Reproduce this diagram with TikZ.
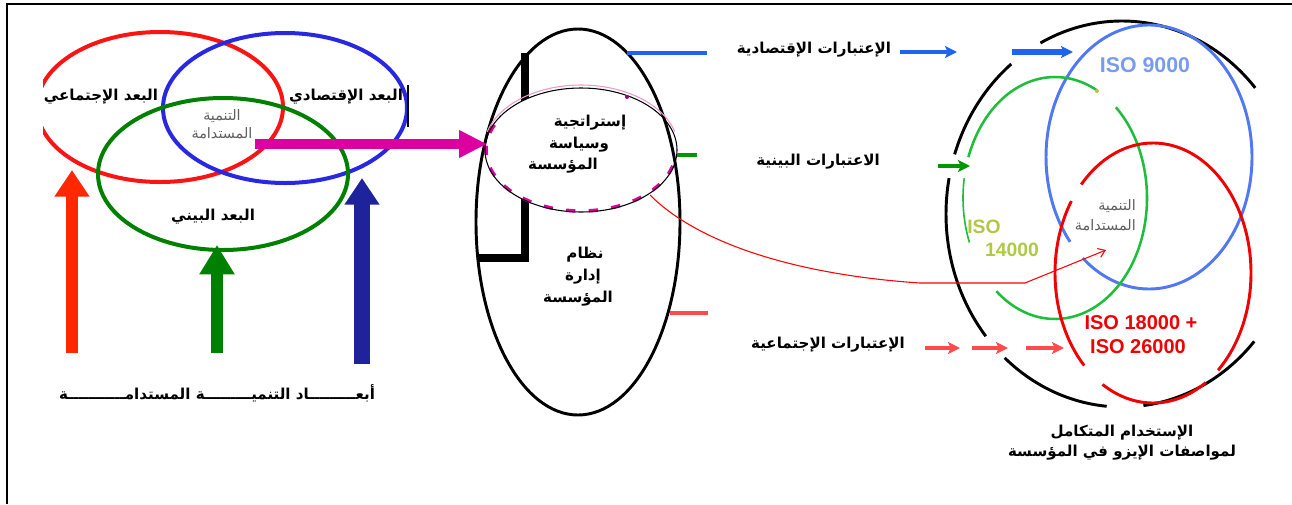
\documentclass[tikz,border=0pt]{standalone}
\usepackage{fontspec}
\setmainfont{Liberation Sans}
\newfontfamily\arabicfont[Script=Arabic]{DejaVu Sans}
\TeXXeTstate=1
\usetikzlibrary{arrows.meta}
\newcommand{\rtltxt}[1]{\beginR #1\endR}
\definecolor{vred}{RGB}{250,20,20}
\definecolor{vblue}{RGB}{40,40,225}
\definecolor{vgreen}{RGB}{0,128,0}
\definecolor{mag}{RGB}{220,0,160}
\definecolor{pinkl}{RGB}{240,150,200}
\definecolor{arrred}{RGB}{255,40,0}
\definecolor{arrgreen}{RGB}{0,128,0}
\definecolor{arrblue}{RGB}{30,35,155}
\definecolor{lblue}{RGB}{30,100,240}
\definecolor{lgreen}{RGB}{0,150,0}
\definecolor{lred}{RGB}{255,75,75}
\definecolor{isoblue}{RGB}{80,120,240}
\definecolor{isotext}{RGB}{120,155,235}
\definecolor{isogreen}{RGB}{30,190,60}
\definecolor{isoyel}{RGB}{175,200,70}
\definecolor{isored}{RGB}{240,0,0}
\definecolor{gtext}{RGB}{95,95,95}
\tikzset{
  arb/.style={font=\arabicfont\bfseries\fontsize{11.3}{15}\selectfont, inner sep=0pt, align=center},
  arg/.style={font=\arabicfont\fontsize{10.8}{13.5}\selectfont, text=gtext, inner sep=0pt, align=center},
  isolbl/.style={font=\bfseries\fontsize{15}{18}\selectfont, inner sep=0pt, align=center},
  bigup/.style={line width=9pt, -{Triangle[length=20pt,width=25pt]}},
  smallarr/.style={line width=3pt, -{Stealth[length=9pt,width=9pt,inset=2pt]}},
}
\begin{document}
\begin{tikzpicture}[x=0.75pt,y=-0.75pt]
\useasboundingbox (0,0) rectangle (1292,504);
% frame
\draw[line width=1.6pt] (7,504) -- (7,4) -- (1292,4);

% ---------- left Venn ----------
\begin{scope}
  \clip (43,0) rectangle (1292,504);
  \draw[vred, line width=3pt] (160,107) ellipse [x radius=123, y radius=75];
\end{scope}
\draw[vblue, line width=3pt] (285,108) ellipse [x radius=122, y radius=75];
\draw[vgreen, line width=3pt] (223,174) ellipse [x radius=125, y radius=76];
\draw[line width=1.1pt] (408,85) -- (408,127);

\node[arb] (soc) at (101,97) {\rtltxt{البعد الإجتماعي}};
\node[arb] (eco) at (346,97) {\rtltxt{البعد الإقتصادي}};
\node[arg] (sd1) at (222,124) {\rtltxt{التنمية}\\\rtltxt{المستدامة}};
\node[arb] (env) at (213,217) {\rtltxt{البعد البيني}};
\node[arb] (dims) at (217,393) {\rtltxt{أبعـــــــــاد التنميـــــــــة المستدامـــــــــــة}};

% up arrows
\coordinate (ra0) at (72,353); \coordinate (ra1) at (72,170);
\coordinate (ga0) at (217,353); \coordinate (ga1) at (217,245);
\coordinate (ba0) at (362,364); \coordinate (ba1) at (362,178);
\draw[bigup, arrred] (ra0) -- (ra1);
\draw[bigup, arrgreen, -{Triangle[length=22pt,width=25pt]}] (ga0) -- (ga1);
\draw[bigup, arrblue, line width=12pt] (ba0) -- (ba1);

% ---------- middle ellipses ----------
\draw[line width=6pt] (525,53) -- (525,258) -- (477,258);
\fill[white] (581,150) ellipse [x radius=96, y radius=62];
\draw[line width=2.2pt] (578,222) ellipse [x radius=102, y radius=193];
\draw[pinkl, line width=0.8pt] plot[domain=195:345, samples=60, smooth] ({581+97*cos(\x)},{148+63*sin(\x)});
\draw[mag, line width=2.6pt, dash pattern=on 7pt off 10pt] plot[domain=15:215, samples=80, smooth] ({581+95*cos(\x)},{150+61*sin(\x)});
\draw[line width=0.8pt] (581,150) ellipse [x radius=96, y radius=62];
\fill[mag!70!black] (627,97) circle [radius=2];

\node[arb] (st1) at (590,123) {\rtltxt{إستراتجية}};
\node[arb] (st2) at (579,145) {\rtltxt{وسياسة}};
\node[arb] (st3) at (563,166) {\rtltxt{المؤسسة}};
\node[arb] (ms1) at (585,255) {\rtltxt{نظام}};
\node[arb] (ms2) at (583,277) {\rtltxt{إدارة}};
\node[arb] (ms3) at (578,299) {\rtltxt{المؤسسة}};

% magenta arrow
\coordinate (m0) at (255,144); \coordinate (m1) at (487,144);
\draw[mag, line width=7.5pt, -{Triangle[length=21pt,width=19.5pt]}] (m0) -- (m1);

% stubs from big ellipse
\draw[lblue, line width=3pt] (627,53) -- (707,53);
\draw[lgreen, line width=3pt] (677,155) -- (697,155);
\draw[lred, line width=3pt] (670,313) -- (708,313);

% considerations labels
\node[arb] (ce) at (814,50) {\rtltxt{الإعتبارات الإقتصادية}};
\node[arb] (cv) at (818,162) {\rtltxt{الاعتبارات البينية}};
\node[arb] (cs) at (828,345) {\rtltxt{الإعتبارات الإجتماعية}};

\draw[smallarr, lblue] (900,52) -- (957,52);
\draw[smallarr, lblue, line width=4pt] (1012,52) -- (1073,52);
\draw[smallarr, lgreen] (938,166) -- (970,166);
\draw[smallarr, lred] (925,348) -- (960,348);
\draw[smallarr, lred] (972,348) -- (1008,348);
\draw[smallarr, lred] (1026,348) -- (1064,348);

% ---------- right diagram ----------
\begin{scope}[line width=2.2pt]
\draw plot[domain=-117.6:-40.8, samples=50, smooth] ({1122+176*cos(\x)},{214+193*sin(\x)});
\draw plot[domain=-162:-129, samples=30, smooth] ({1122+176*cos(\x)},{214+193*sin(\x)});
\draw plot[domain=140.7:190.7, samples=40, smooth] ({1122+176*cos(\x)},{214+193*sin(\x)});
\draw plot[domain=95:131.8, samples=30, smooth] ({1122+176*cos(\x)},{214+193*sin(\x)});
\draw plot[domain=41.3:83, samples=30, smooth] ({1122+176*cos(\x)},{214+193*sin(\x)});
\end{scope}
\draw[isoblue, line width=2.2pt] plot[domain=140:490, samples=120, smooth] ({1149+103*cos(\x)},{157+132*sin(\x)});
\begin{scope}[isogreen, line width=1.9pt]
\draw plot[domain=-160.3:-62.7, samples=50, smooth] ({1055+92*cos(\x)},{198+121*sin(\x)});
\draw plot[domain=-48.6:129.6, samples=80, smooth] ({1055+92*cos(\x)},{198+121*sin(\x)});
\draw[line width=1.2pt] plot[domain=158.4:189.4, samples=20, smooth] ({1055+92*cos(\x)},{198+121*sin(\x)});
\end{scope}
\fill[isoyel] (1097,91) circle [radius=2];
\begin{scope}[isored, line width=2.2pt]
\draw plot[domain=-137.1:48.4, samples=90, smooth] ({1153+98*cos(\x)},{273+130*sin(\x)});
\draw plot[domain=134.6:213.6, samples=40, smooth] ({1153+98*cos(\x)},{273+130*sin(\x)});
\draw plot[domain=57.4:121, samples=30, smooth] ({1153+98*cos(\x)},{273+130*sin(\x)});
\end{scope}

\node[isolbl, text=isotext, font=\bfseries\fontsize{16}{18}\selectfont] (i9) at (1145,65) {ISO 9000};
\node[isolbl, text=isoyel, font=\bfseries\fontsize{14.5}{18}\selectfont] (i14a) at (984,227) {ISO};
\node[isolbl, text=isoyel, font=\bfseries\fontsize{14.5}{18}\selectfont] (i14b) at (1012,250) {14000};
\node[isolbl, text=isored] (i18) at (1141,323) {ISO 18000 +};
\node[isolbl, text=isored] (i26) at (1138,347) {ISO 26000};
\node[arg, align=right, anchor=east, font=\arabicfont\fontsize{10.8}{15}\selectfont] (sd2) at (1136,215) {\rtltxt{التنمية}\\\rtltxt{المستدامة}};
\node[arb] (use) at (1122,443) {\rtltxt{الإستخدام المتكامل}\\\rtltxt{لمواصفات الإيزو في المؤسسة}};

% red thin link
\coordinate (rc0) at (650,195);
\coordinate (rc1) at (920,283);
\coordinate (rc2) at (1025,283);
\coordinate (rc3) at (1106,250);
\draw[red, line width=0.8pt, -{Straight Barb[length=5pt,width=7pt]}] (rc0) .. controls (700,245) and (800,275) .. (rc1) -- (rc2) -- (rc3);
\end{tikzpicture}
\end{document}
